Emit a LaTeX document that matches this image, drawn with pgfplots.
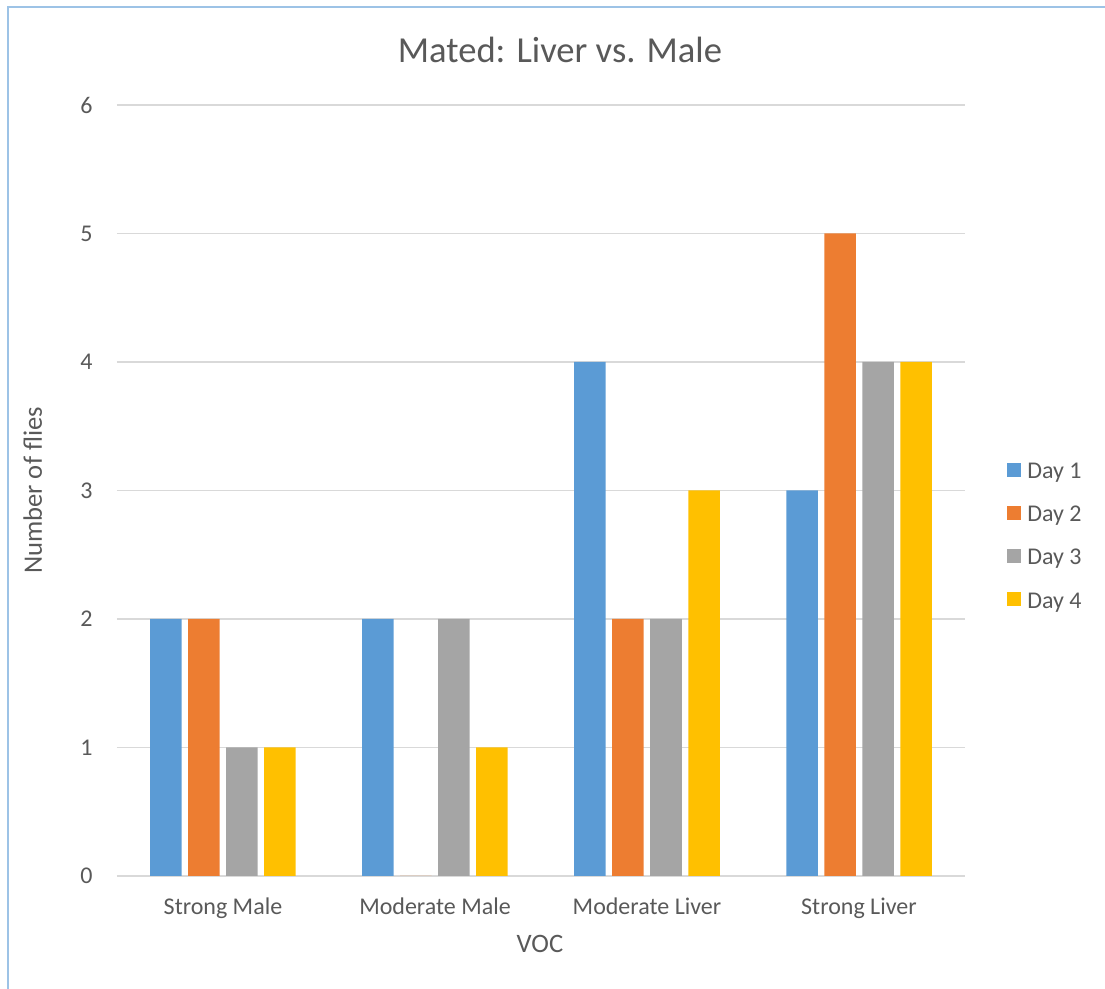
\documentclass[border=0pt]{standalone}
\usepackage{pgfplots}
\pgfplotsset{compat=1.18}
\usepackage{fontspec}
\setmainfont{Carlito}

\definecolor{dayA}{HTML}{5B9BD5}
\definecolor{dayB}{HTML}{ED7D31}
\definecolor{dayC}{HTML}{A5A5A5}
\definecolor{dayD}{HTML}{FFC000}
\definecolor{gridgrey}{HTML}{D9D9D9}
\definecolor{textgrey}{HTML}{595959}
\definecolor{frame}{HTML}{9DC3E6}

\begin{document}
\begin{tikzpicture}
\useasboundingbox (-58.5pt,-56.5pt) rectangle (494pt,438pt);
\draw[frame, line width=1pt] (-54.5pt,-56.5pt) -- (-54.5pt,434.5pt) -- (494pt,434.5pt);

\begin{axis}[
    at={(0,0)}, anchor=south west,
    scale only axis, width=424pt, height=385.5pt,
    ybar=3.25pt, bar width=15.75pt,
    xmin=-0.5, xmax=3.5, ymin=0, ymax=6,
    xtick=data,
    xticklabels={Strong Male, Moderate Male, Moderate Liver, Strong Liver},
    ytick={0,1,2,3,4,5,6},
    axis line style={draw=none},
    major tick length=0pt,
    ymajorgrids, grid style={gridgrey, line width=0.75pt},
    /pgf/number format/assume math mode=true,
    ticklabel style={text=textgrey, font=\fontsize{12}{14}\selectfont},
    yticklabel style={anchor=east, inner sep=0pt, xshift=-12pt},
    xticklabel style={anchor=base, inner sep=0pt, yshift=-19.5pt},
    legend style={draw=none, fill=none, at={(axis description cs:1.0495,0.4391)},
        anchor=west, font=\fontsize{12}{14}\selectfont, text=textgrey,
        row sep=11.55pt, column sep=3pt, inner sep=0pt,
        nodes={inner sep=0pt, text height=8pt, text depth=2pt}},
    legend cell align=left,
    legend image code/.code={\fill[#1] (0pt,-2pt) rectangle (7pt,5pt);},
]
\addplot[fill=dayA, draw=none] coordinates {(0,2) (1,2) (2,4) (3,3)};
\addplot[fill=dayB, draw=none] coordinates {(0,2) (1,0) (2,2) (3,5)};
\addplot[fill=dayC, draw=none] coordinates {(0,1) (1,2) (2,2) (3,4)};
\addplot[fill=dayD, draw=none] coordinates {(0,1) (1,1) (2,3) (3,4)};
\legend{Day 1, Day 2, Day 3, Day 4}
\end{axis}

\node[anchor=base, text=textgrey, font=\fontsize{18.3}{22}\selectfont] at (221.5pt,406.5pt) {Mated: Liver vs. Male};
\node[anchor=base, text=textgrey, font=\fontsize{13.3}{16}\selectfont] at (211.5pt,-38.5pt) {VOC};
\node[anchor=base, rotate=90, text=textgrey, font=\fontsize{13.3}{16}\selectfont] at (-37.5pt,192.75pt) {Number of flies};
\end{tikzpicture}
\end{document}
